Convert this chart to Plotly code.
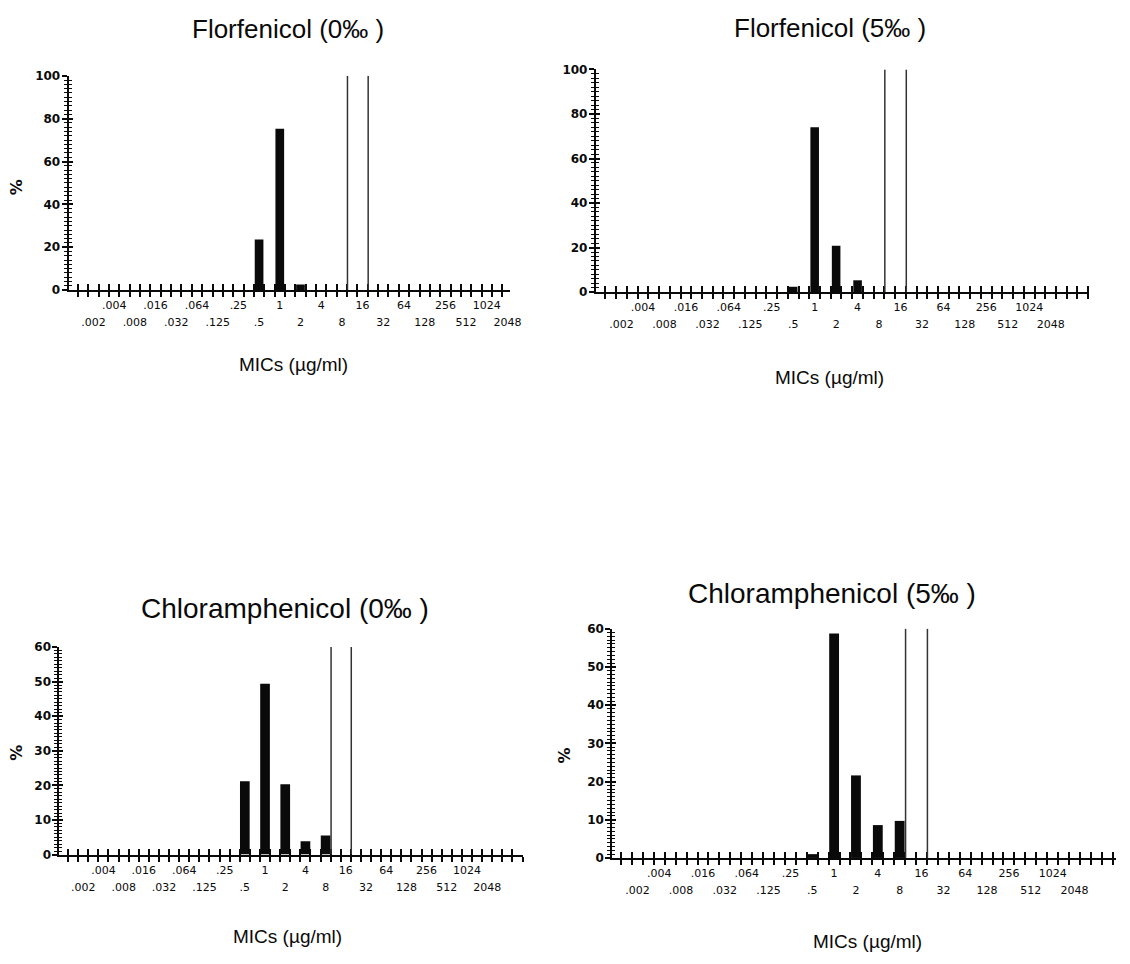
import plotly.graph_objects as go

# ---------------- data ----------------
mic_labels = [".002", ".004", ".008", ".016", ".032", ".064", ".125", ".25", ".5",
              "1", "2", "4", "8", "16", "32", "64", "128", "256", "512", "1024", "2048"]

titles = ["Florfenicol (0\u2030 )", "Florfenicol (5\u2030 )",
          "Chloramphenicol (0\u2030 )", "Chloramphenicol (5\u2030 )"]

#                  .002 .004 .008 .016 .032 .064 .125 .25  .5    1     2     4    8    16 32 64 128 256 512 1024 2048
florfenicol_0 =     [0,   0,   0,   0,   0,   0,   0,   0, 23.6, 75.3,  2.6,  0,   0,   0, 0, 0, 0,  0,  0,  0,   0]
florfenicol_5 =     [0,   0,   0,   0,   0,   0,   0,   0,  2.4, 74.0, 20.8,  5.3, 0,   0, 0, 0, 0,  0,  0,  0,   0]
chloramphenicol_0 = [0,   0,   0,   0,   0,   0,   0,   0, 21.2, 49.4, 20.3,  3.8, 5.5, 0, 0, 0, 0,  0,  0,  0,   0]
chloramphenicol_5 = [0,   0,   0,   0,   0,   0,   0,   0,  1.0, 58.7, 21.6,  8.6, 9.7, 0, 0, 0, 0,  0,  0,  0,   0]

series = [florfenicol_0, florfenicol_5, chloramphenicol_0, chloramphenicol_5]
breakpoints = ["8", "16"]          # MIC values marked by the vertical lines
y_max = [100, 100, 60, 60]
y_major = [20, 20, 10, 10]
y_minor = [2, 2, 1, 1]
x_title = "MICs (\u00b5g/ml)"
y_title = "%"

# ---------------- layout / style ----------------
W, H = 1130, 964
panels = [
    dict(xd=(69.3, 515.0), yd=(69.7, 287.3), xr=(-1.2, 20.12), bw=0.42,
         t=(291, 22), ts=26, m=(296, 363), p=(16, 183)),
    dict(xd=(601.7, 1100.0), yd=(63.3, 289.3), xr=(-1.2, 21.8), bw=0.40,
         t=(838, 21), ts=26, m=(838, 376), p=None),
    dict(xd=(60.0, 528.3), yd=(649.3, 860.0), xr=(-1.18, 21.78), bw=0.48,
         t=(288, 610), ts=28, m=(290, 943), p=(16, 757)),
    dict(xd=(618.3, 1127.0), yd=(630.7, 863.5), xr=(-1.15, 21.9), bw=0.45,
         t=(840, 595), ts=28, m=(876, 948), p=(571, 759)),
]

INK = "#0a0a0a"
n_cat = len(mic_labels)
idx = list(range(n_cat))
upper_vals = [i for i in idx if i % 2 == 1]
lower_vals = [i for i in idx if i % 2 == 0]
bounds = [k + d for k in range(-1, n_cat + 2) for d in (0.25, 0.75)]
xtick_font = dict(family="DejaVu Sans", size=11, color=INK)
ytick_font = dict(family="DejaVu Sans", size=12, color=INK, weight="bold")

fig = go.Figure()
annotations = []
shapes = []
layout = {}

for i, (p, vals) in enumerate(zip(panels, series)):
    n = i + 1
    o = i + 5
    xs = "" if n == 1 else str(n)
    xref, yref = "x" + xs, "y" + xs
    oxref, oyref = "x" + str(o), "y" + str(o)
    xdom = [p["xd"][0] / W, p["xd"][1] / W]
    ydom = [1 - p["yd"][1] / H, 1 - p["yd"][0] / H]
    yr = [0, y_max[i] * 1.0005]
    bvals = [b for b in bounds if p["xr"][0] < b < p["xr"][1]]

    fig.add_trace(go.Bar(x=idx, y=vals, width=p["bw"], marker=dict(color=INK, line=dict(width=0)),
                         xaxis=xref, yaxis=yref, showlegend=False, hoverinfo="skip"))
    # carrier for the overlay axes (cross-shaped ticks)
    fig.add_trace(go.Scatter(x=[None], y=[None], mode="markers", xaxis=oxref, yaxis=oyref,
                             showlegend=False, hoverinfo="skip"))

    layout["xaxis" + xs] = dict(
        domain=xdom, range=list(p["xr"]), anchor=yref, showgrid=False, zeroline=False,
        showline=True, linecolor=INK, linewidth=2,
        tickmode="array", tickvals=upper_vals, ticktext=[mic_labels[k] for k in upper_vals],
        ticks="outside", ticklen=0, tickfont=xtick_font, ticklabelstandoff=4,
        minor=dict(tickmode="array", tickvals=bvals, ticks="outside", ticklen=5,
                   tickwidth=1.5, tickcolor=INK, showgrid=False))
    layout["xaxis" + str(o)] = dict(
        overlaying=xref, anchor=yref, range=list(p["xr"]), showgrid=False, zeroline=False,
        showline=False,
        tickmode="array", tickvals=lower_vals, ticktext=[mic_labels[k] for k in lower_vals],
        ticks="inside", ticklen=0, tickfont=xtick_font, ticklabelstandoff=24,
        minor=dict(tickmode="array", tickvals=bvals, ticks="inside", ticklen=6,
                   tickwidth=1.5, tickcolor=INK, showgrid=False))
    layout["yaxis" + xs] = dict(
        domain=ydom, range=yr, anchor=xref, showgrid=False, zeroline=False,
        showline=True, linecolor=INK, linewidth=2,
        tickmode="linear", tick0=0, dtick=y_major[i], ticks="outside", ticklen=5,
        tickwidth=1.5, tickcolor=INK, tickfont=ytick_font, ticklabelstandoff=-1,
        minor=dict(dtick=y_minor[i], ticks="outside", ticklen=3, tickwidth=1,
                   tickcolor=INK, showgrid=False))
    layout["yaxis" + str(o)] = dict(
        overlaying=yref, anchor=xref, range=yr, showgrid=False, zeroline=False,
        showline=False, showticklabels=False,
        tickmode="linear", tick0=0, dtick=y_major[i], ticks="inside", ticklen=4,
        tickwidth=1.5, tickcolor=INK,
        minor=dict(dtick=y_minor[i], ticks="inside", ticklen=3, tickwidth=1,
                   tickcolor=INK, showgrid=False))

    for b in breakpoints:
        bx = mic_labels.index(b) + 0.27
        shapes.append(dict(type="line", xref=xref, yref=yref, x0=bx, x1=bx, y0=0, y1=y_max[i],
                           line=dict(color="#333333", width=1.5)))

    annotations.append(dict(text=titles[i], x=p["t"][0] / W, y=1 - p["t"][1] / H,
                            xref="paper", yref="paper", xanchor="center", yanchor="middle",
                            showarrow=False,
                            font=dict(family="Liberation Sans", size=p["ts"], color=INK)))
    annotations.append(dict(text=x_title, x=p["m"][0] / W, y=1 - p["m"][1] / H,
                            xref="paper", yref="paper", xanchor="center", yanchor="middle",
                            showarrow=False,
                            font=dict(family="Liberation Sans", size=19, color=INK)))
    if p["p"] is not None:
        annotations.append(dict(text=y_title, x=p["p"][0] / W, y=1 - p["p"][1] / H,
                                xref="paper", yref="paper", xanchor="center", yanchor="middle",
                                showarrow=False, textangle=-90,
                                font=dict(family="DejaVu Sans", size=16, color=INK, weight="bold")))

fig.update_layout(**layout)
fig.update_layout(width=W, height=H, margin=dict(l=0, r=0, t=0, b=0),
                  paper_bgcolor="white", plot_bgcolor="white", showlegend=False,
                  annotations=annotations, shapes=shapes)

page_css = ("var s=document.createElement('style');"
            "s.innerHTML='html,body{margin:0;padding:0;overflow:hidden;}"
            " body>div{margin:0;padding:0;line-height:0;}';"
            "document.head.appendChild(s);")
fig.write_html("out.html", config={"displayModeBar": False}, post_script=page_css)
